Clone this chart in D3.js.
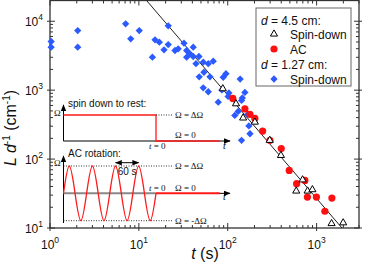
<!DOCTYPE html>
<html>
<head>
<meta charset="utf-8">
<script src="https://cdn.jsdelivr.net/npm/d3@7"></script>
<style>
  body { margin: 0; background: #fff; }
  svg { display: block; font-family: "Liberation Sans", Arial, sans-serif; }
</style>
</head>
<body>
<div id="chart"></div>
<script>
// t (s), L/d (cm^-1)
var spinDown45 = [[88,1050],[124,635],[149,395],[202,344],[297,187],[397,113],[696,50],
  [590,34.4],[792,34.4],[897,36],[1474,11.6],[1991,11.9]];
var ac45 = [[114,760],[156,534],[178,445],[202,389],[247,255],[298,187],[400,142],[492,68.5],
  [596,44],[738,49],[788,28.1],[995,28.1],[1239,17.5],[1486,27.2]];
var spinDown127 = [[1.03,5080],[1.03,4200],[2.05,7330],[2.05,4200],[7.1,9160],[8.1,5560],
  [10.1,7330],[14.2,3010],[15.2,5370],[17,4970],[21.4,8570],[21.4,4590],[19.2,3850],
  [25.5,3760],[27.7,3980],[32.2,4800],[34.5,3760],[34.5,3010],[37.6,3370],[40.9,3080],
  [47.4,3080],[40.9,4200],[43.9,2420],[53,2550],[60.4,2420],[68.7,2630],[54,1820],
  [47.8,1560],[63.1,1560],[95.5,1730],[89,1540],[138,1450],[53,1080],[60.4,948],[86,1007],
  [103,910],[101,811],[156,927],[146,771],[143,710],[78.2,670],[131,491],[167,445],
  [173,303],[143,187],[178,233],[120,430]];
var fitLine = [[12.2,20000],[1930,10]];

var xMajors = [1, 10, 100, 1000];
var yMajors = [10, 100, 1000, 10000];
var xExps = ["0", "1", "2", "3"];
var yExps = ["1", "2", "3", "4"];

// schematic insets: time in periods (60 s), Omega in units of delta Omega
var spinDownStep = [[-4,1],[0,1],[0,0],[2.75,0]];
var acWaveT = [-4,-3.75,-3.5,-3.25,-3,-2.75,-2.5,-2.25,-2,-1.75,-1.5,-1.25,-1,-0.75,-0.5,-0.25,0];
var acWaveW = [0,1,0,-1,0,1,0,-1,0,1,0,-1,0,1,0,-1,0];
var acAfter = [[0,0],[2.75,0]];

var W = 374, H = 264;
var svg = d3.select("#chart").append("svg").attr("width", W).attr("height", H);

var defs = svg.append("defs");
defs.append("marker").attr("id", "arr").attr("viewBox", "0 0 10 10")
  .attr("refX", 9).attr("refY", 5).attr("markerWidth", 7).attr("markerHeight", 7)
  .attr("markerUnits", "userSpaceOnUse").attr("orient", "auto-start-reverse")
  .append("path").attr("d", "M0,1L10,5L0,9Z").attr("fill", "#000");

var x = d3.scaleLog().domain([1, 3000]).range([50, 359]);
var y = d3.scaleLog().domain([10, 20000]).range([228, 0.5]);
var x0 = 50, x1 = 359, y0 = 228, y1 = 0.5;
var axisCol = "#333";

// frame
svg.append("rect").attr("x", x0).attr("y", y1).attr("width", x1 - x0).attr("height", y0 - y1)
  .attr("fill", "none").attr("stroke", axisCol).attr("stroke-width", 1.3);

function isMajor(v) { return Math.abs(Math.log10(v) - Math.round(Math.log10(v))) < 1e-9; }

var ticks = svg.append("g").attr("stroke", axisCol).attr("stroke-width", 1);
x.ticks().forEach(function(v) {
  var px = x(v), m = isMajor(v);
  ticks.append("line").attr("x1", px).attr("x2", px)
    .attr("y1", y0 + (m ? 3 : 0)).attr("y2", y0 - (m ? 5 : 3));
  ticks.append("line").attr("x1", px).attr("x2", px)
    .attr("y1", y1).attr("y2", y1 + (m ? 5 : 3));
});
y.ticks().forEach(function(v) {
  var py = y(v), m = isMajor(v);
  ticks.append("line").attr("y1", py).attr("y2", py)
    .attr("x1", x0 - (m ? 3 : 0)).attr("x2", x0 + (m ? 5 : 3));
  ticks.append("line").attr("y1", py).attr("y2", py)
    .attr("x1", x1 + (m ? 3 : 0)).attr("x2", x1 - (m ? 5 : 3));
});

// tick labels
xMajors.forEach(function(v, i) {
  var t = svg.append("text").attr("x", x(v)).attr("y", 249)
    .attr("text-anchor", "middle").attr("font-size", 12).attr("fill", "#111");
  t.append("tspan").text("10");
  t.append("tspan").attr("dy", -6).attr("font-size", 8.5).text(xExps[i]);
});
yMajors.forEach(function(v, i) {
  var t = svg.append("text").attr("x", 43).attr("y", y(v) + 5)
    .attr("text-anchor", "end").attr("font-size", 12).attr("fill", "#111");
  t.append("tspan").text("10");
  t.append("tspan").attr("dy", -6).attr("font-size", 8.5).text(yExps[i]);
});

// axis titles
var xt = svg.append("text").attr("x", 205).attr("y", 259).attr("text-anchor", "middle")
  .attr("font-size", 16).attr("fill", "#111");
xt.append("tspan").attr("font-style", "italic").text("t");
xt.append("tspan").text(" (s)");

var yt = svg.append("text").attr("transform", "translate(16,128) rotate(-90)")
  .attr("text-anchor", "middle").attr("font-size", 16).attr("fill", "#111");
yt.append("tspan").attr("font-style", "italic").text("L d");
yt.append("tspan").attr("dy", -6).attr("font-size", 10).text("-1");
yt.append("tspan").attr("dy", 6).text(" (cm");
yt.append("tspan").attr("dy", -6).attr("font-size", 10).text("-1");
yt.append("tspan").attr("dy", 6).text(")");

// ---------- insets ----------
var sx = d3.scaleLinear().domain([-4, 0]).range([63.5, 156]);
var sy1 = d3.scaleLinear().domain([0, 1]).range([141, 115]);
var sy2 = d3.scaleLinear().domain([-1, 1]).range([220.7, 166]);
var serif = '"Liberation Serif", "Times New Roman", serif';
var red = "#ff1a1a";

function omegaLabel(xp, yp, txt, italicFirst) {
  var t = svg.append("text").attr("x", xp).attr("y", yp).attr("font-family", serif)
    .attr("font-size", 9).attr("fill", "#111");
  if (italicFirst) {
    t.append("tspan").attr("font-style", "italic").text("t");
    t.append("tspan").text(txt);
  } else t.text(txt);
}

// spin down to rest
svg.append("text").attr("x", 68).attr("y", 107).attr("font-size", 10).attr("fill", "#111")
  .text("spin down to rest:");
svg.append("line").attr("x1", sx(-4)).attr("x2", sx(-4)).attr("y1", sy1(0)).attr("y2", 105)
  .attr("stroke", "#000").attr("stroke-width", 1).attr("marker-end", "url(#arr)");
svg.append("line").attr("x1", sx(-4)).attr("x2", sx(3.2)).attr("y1", sy1(0)).attr("y2", sy1(0))
  .attr("stroke", "#000").attr("stroke-width", 1).attr("marker-end", "url(#arr)");
svg.append("path").datum(spinDownStep)
  .attr("d", d3.line().x(function(d) { return sx(d[0]); }).y(function(d) { return sy1(d[1]); }))
  .attr("fill", "none").attr("stroke", red).attr("stroke-width", 1.3);
svg.append("line").attr("x1", sx(0)).attr("x2", 173).attr("y1", sy1(1)).attr("y2", sy1(1))
  .attr("stroke", "#000").attr("stroke-width", 0.8).attr("stroke-dasharray", "1,1.5");
omegaLabel(54, 116, "\u03A9");
omegaLabel(175, 118, "\u03A9 = \u0394\u03A9");
omegaLabel(175, 138, "\u03A9 = 0");
omegaLabel(149, 149, " = 0", true);
svg.append("text").attr("x", 223).attr("y", 149).attr("font-family", serif)
  .attr("font-style", "italic").attr("font-size", 10).text("t");

// AC rotation
svg.append("text").attr("x", 68).attr("y", 157).attr("font-size", 10).attr("fill", "#111")
  .text("AC rotation:");
svg.append("line").attr("x1", sx(-4)).attr("x2", sx(-4)).attr("y1", 223).attr("y2", 156)
  .attr("stroke", "#000").attr("stroke-width", 1).attr("marker-end", "url(#arr)");
[1, -1].forEach(function(w) {
  svg.append("line").attr("x1", sx(-4)).attr("x2", 173).attr("y1", sy2(w)).attr("y2", sy2(w))
    .attr("stroke", "#000").attr("stroke-width", 0.8).attr("stroke-dasharray", "1,1.5");
});
svg.append("line").attr("x1", sx(-4)).attr("x2", sx(0)).attr("y1", sy2(0)).attr("y2", sy2(0))
  .attr("stroke", "#888").attr("stroke-width", 2);
svg.append("line").attr("x1", sx(2.6)).attr("x2", sx(3.2)).attr("y1", sy2(0)).attr("y2", sy2(0))
  .attr("stroke", "#000").attr("stroke-width", 1).attr("marker-end", "url(#arr)");
svg.append("path").datum(acAfter)
  .attr("d", d3.line().x(function(d) { return sx(d[0]); }).y(function(d) { return sy2(d[1]); }))
  .attr("fill", "none").attr("stroke", red).attr("stroke-width", 2);
svg.append("path").datum(d3.zip(acWaveT, acWaveW))
  .attr("d", d3.line().curve(d3.curveNatural)
    .x(function(d) { return sx(d[0]); }).y(function(d) { return sy2(d[1]); }))
  .attr("fill", "none").attr("stroke", red).attr("stroke-width", 1.3);
// 60 s period arrow
svg.append("line").attr("x1", sx(-1.75)).attr("x2", sx(-0.75)).attr("y1", 162.7).attr("y2", 162.7)
  .attr("stroke", "#000").attr("stroke-width", 1)
  .attr("marker-start", "url(#arr)").attr("marker-end", "url(#arr)");
svg.append("text").attr("x", sx(-1.25)).attr("y", 175).attr("text-anchor", "middle")
  .attr("font-size", 10).attr("fill", "#111").text("60 s");
omegaLabel(54, 166, "\u03A9");
omegaLabel(175, 169, "\u03A9 = \u0394\u03A9");
omegaLabel(175, 191, "\u03A9 = 0");
omegaLabel(175, 224, "\u03A9 = -\u0394\u03A9");
omegaLabel(149, 191, " = 0", true);
svg.append("text").attr("x", 223).attr("y", 200).attr("font-family", serif)
  .attr("font-style", "italic").attr("font-size", 10).text("t");

// ---------- data ----------
svg.append("path").datum(fitLine)
  .attr("d", d3.line().x(function(d) { return x(d[0]); }).y(function(d) { return y(d[1]); }))
  .attr("stroke", "#222").attr("stroke-width", 1).attr("fill", "none");

var diamond = d3.symbol().type(d3.symbolDiamond2).size(34);
svg.append("g").selectAll("path").data(spinDown127).join("path")
  .attr("transform", function(d) { return "translate(" + x(d[0]) + "," + y(d[1]) + ")"; })
  .attr("d", diamond).attr("fill", "#2b5bff");

svg.append("g").selectAll("circle").data(ac45).join("circle")
  .attr("cx", function(d) { return x(d[0]); }).attr("cy", function(d) { return y(d[1]); })
  .attr("r", 3.6).attr("fill", "#ff1010");

var tri = d3.symbol().type(d3.symbolTriangle).size(22);
svg.append("g").selectAll("path").data(spinDown45).join("path")
  .attr("transform", function(d) { return "translate(" + x(d[0]) + "," + y(d[1]) + ")"; })
  .attr("d", tri).attr("fill", "#fff").attr("stroke", "#000").attr("stroke-width", 1);

// ---------- legend ----------
var lg = svg.append("g");
lg.append("rect").attr("x", 256).attr("y", 8).attr("width", 95).attr("height", 78)
  .attr("fill", "#fff").attr("stroke", "#666").attr("stroke-width", 1);
function legendHead(yp, txt) {
  var t = lg.append("text").attr("x", 261).attr("y", yp).attr("font-size", 12).attr("fill", "#111");
  t.append("tspan").attr("font-style", "italic").text("d");
  t.append("tspan").text(txt);
}
legendHead(25, " = 4.5 cm:");
legendHead(69, " = 1.27 cm:");
lg.append("path").attr("transform", "translate(274,34)").attr("d", tri)
  .attr("fill", "#fff").attr("stroke", "#000");
lg.append("circle").attr("cx", 274).attr("cy", 49).attr("r", 3.6).attr("fill", "#ff1010");
lg.append("path").attr("transform", "translate(274,79)").attr("d", diamond).attr("fill", "#2b5bff");
[["Spin-down", 39], ["AC", 54], ["Spin-down", 84]].forEach(function(r) {
  lg.append("text").attr("x", 290).attr("y", r[1]).attr("font-size", 12).attr("fill", "#111").text(r[0]);
});
</script>
</body>
</html>
